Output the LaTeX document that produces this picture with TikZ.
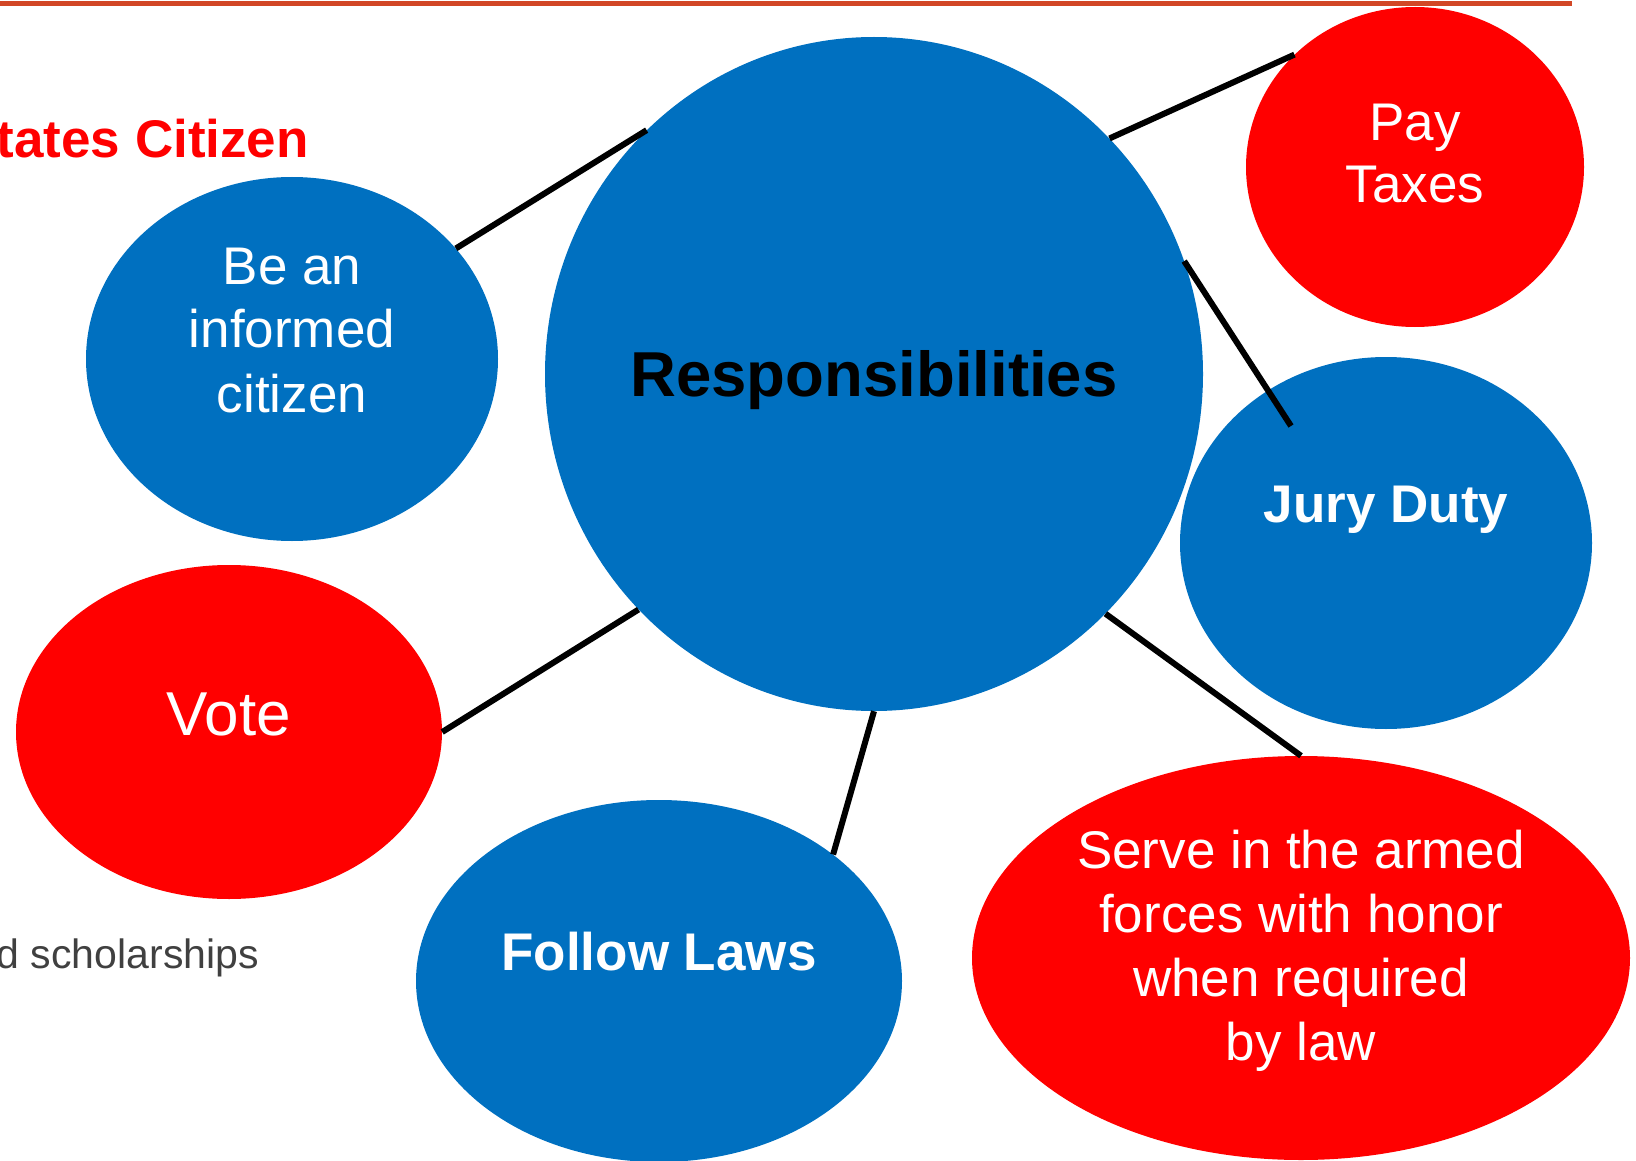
\documentclass[tikz,border=0pt]{standalone}
\usepackage{fontspec}
\setmainfont{Liberation Sans}
\usetikzlibrary{shapes.geometric,calc}
\definecolor{bubbleblue}{RGB}{0,112,192}
\definecolor{bubblered}{RGB}{255,0,0}
\definecolor{topbar}{RGB}{210,71,38}
\definecolor{bodygray}{RGB}{64,64,64}
\tikzset{
  bubble/.style={ellipse, inner sep=0pt, draw=none},
  bluebub/.style={bubble, fill=bubbleblue},
  redbub/.style={bubble, fill=bubblered},
  link/.style={line width=6pt, draw=black},
  wtext/.style={text=white, font=\fontsize{53}{64}\selectfont, inner sep=0pt, anchor=base},
  wbold/.style={text=white, font=\fontsize{53}{64}\selectfont\bfseries, inner sep=0pt, anchor=base},
}
\begin{document}
\begin{tikzpicture}[x=1pt,y=-1pt]
\useasboundingbox (0,0) rectangle (1636,1161);
\clip (0,0) rectangle (1636,1161);
% top bar
\fill[topbar] (0,1) rectangle (1572,6);
% slide background texts
\node[text=bubblered, font=\fontsize{53}{60}\selectfont\bfseries, inner sep=0pt, anchor=base east] (title) at (309,158) {tates Citizen};
\node[text=bodygray, font=\fontsize{41}{48}\selectfont, inner sep=0pt, anchor=base east] (schol) at (259,968) {d scholarships};
% bubbles
\node[bluebub, minimum width=658pt, minimum height=674pt] (resp) at (874,374) {};
\node[bluebub, minimum width=412pt, minimum height=364pt] (be) at (292,359) {};
\node[redbub, minimum width=338pt, minimum height=320pt] (pay) at (1415,167) {};
\node[bluebub, minimum width=412pt, minimum height=372pt] (jury) at (1386,543) {};
\node[redbub, minimum width=426pt, minimum height=334pt] (vote) at (229,732) {};
\node[bluebub, minimum width=486pt, minimum height=362pt] (laws) at (659,981) {};
\node[redbub, minimum width=658pt, minimum height=404pt] (serve) at (1301,958) {};
% connectors
\coordinate (jend) at ($(jury.center)+(-95,-117)$);
\draw[link] (be.34.5) -- (resp.133.8);
\draw[link] (resp.45.7) -- (pay.137);
\draw[link] (resp.20.6) -- (jend);
\draw[link] (resp.-46) -- (serve.90);
\draw[link] (resp.-90) -- (laws.36.5);
\draw[link] (resp.225.6) -- (vote.0);
% texts
\node[text=black, font=\fontsize{63.5}{70}\selectfont\bfseries, inner sep=0pt, anchor=base] (resptext) at (874,396) {Responsibilities};
\node[wtext] (be1) at (292,284) {Be an};
\node[wtext] (be2) at (292,347) {informed};
\node[wtext] (be3) at (292,412) {citizen};
\node[wtext] (pay1) at (1415,141) {Pay};
\node[wtext] (pay2) at (1415,203) {Taxes};
\node[wbold] (jurytext) at (1386,522) {Jury Duty};
\node[wtext, font=\fontsize{62}{70}\selectfont] (votetext) at (229,735) {Vote};
\node[wbold] (lawstext) at (659,970) {Follow Laws};
\node[wtext] (serve1) at (1301,868) {Serve in the armed};
\node[wtext] (serve2) at (1301,932) {forces with honor};
\node[wtext] (serve3) at (1301,996) {when required};
\node[wtext] (serve4) at (1301,1060) {by law};
\end{tikzpicture}
\end{document}
